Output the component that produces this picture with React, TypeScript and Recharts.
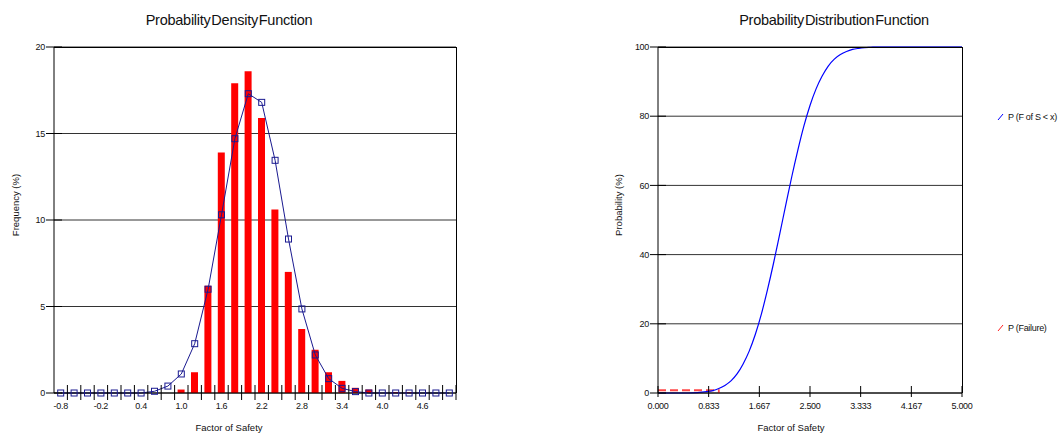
import { ComposedChart, LineChart, Bar, Line, XAxis, YAxis, CartesianGrid } from "recharts";

const FONT = "'Liberation Sans', Arial, sans-serif";

// ---- left: histogram of factor of safety (bins of 0.2)
const fsBins = [
  "-0.8", "-0.6", "-0.4", "-0.2", "0.0", "0.2", "0.4", "0.6", "0.8", "1.0",
  "1.2", "1.4", "1.6", "1.8", "2.0", "2.2", "2.4", "2.6", "2.8", "3.0",
  "3.2", "3.4", "3.6", "3.8", "4.0", "4.2", "4.4", "4.6", "4.8", "5.0",
];
const freqBars = [
  0, 0, 0, 0, 0, 0, 0, 0, 0, 0.2,
  1.2, 6.2, 13.9, 17.9, 18.6, 15.9, 10.6, 7.0, 3.7, 2.5,
  1.2, 0.7, 0.3, 0.2, 0, 0.05, 0.05, 0, 0, 0,
];
const freqCurve = [
  0, 0, 0, 0, 0, 0, 0, 0.1, 0.4, 1.1,
  2.85, 6.0, 10.3, 14.7, 17.3, 16.8, 13.45, 8.9, 4.86, 2.2,
  0.83, 0.27, 0.08, 0, 0, 0, 0, 0, 0, 0,
];
const freqTicks = [0, 5, 10, 15, 20];

// ---- right: cumulative probability
const cdfX = [
  0, 0.5, 0.8, 0.9, 1.0, 1.1, 1.2, 1.3, 1.4, 1.5, 1.6, 1.7, 1.8, 1.9, 2.0,
  2.1, 2.2, 2.3, 2.4, 2.5, 2.6, 2.7, 2.8, 2.9, 3.0, 3.1, 3.2, 3.3, 3.4, 3.5, 3.6, 4.0, 5.0,
];
const cdfY = [
  0, 0, 0.4, 0.7, 1.3, 2.2, 3.5, 5.5, 8.4, 12.1, 16.9, 22.8, 29.8, 37.5, 45.8,
  54.2, 62.5, 70.2, 77.2, 83.1, 87.9, 91.6, 94.5, 96.5, 97.8, 98.7, 99.3, 99.6, 99.8, 99.9, 100, 100, 100,
];
const failX = [0, 1.0, 1.0];
const failY = [0.8, 0.8, 0];
const probTicks = [0, 20, 40, 60, 80, 100];
const fsTicks = [0, 0.833, 1.667, 2.5, 3.333, 4.167, 5.0];

const pdfData = fsBins.map((fs, i) => ({ fs, bar: freqBars[i], curve: freqCurve[i] }));
const cdfData = cdfX.map((x, i) => ({ x, y: cdfY[i] }));
const failData = failX.map((x, i) => ({ x, y: failY[i] }));

const tickText = { fontSize: 9, fill: "#111", fontFamily: FONT, letterSpacing: -0.3 };

function YTick(props: any) {
  const { x, y, payload } = props;
  return (
    <g>
      <line x1={x - 8} x2={x + 8} y1={y} y2={y} stroke="#000" />
      <text x={x - 9} y={y} dy="0.35em" textAnchor="end" {...tickText}>
        {payload.value}
      </text>
    </g>
  );
}

function BinTick(props: any) {
  // tick marks sit on bin edges, labels on every 3rd bin
  const { x, y, payload, index } = props;
  const half = payload.offset || 6.7;
  return (
    <g>
      <line x1={x + half} x2={x + half} y1={y - 8} y2={y + 7} stroke="#000" />
      {index % 3 === 0 && (
        <text x={x} y={y + 16} textAnchor="middle" {...tickText}>
          {payload.value}
        </text>
      )}
    </g>
  );
}

function FsTick(props: any) {
  const { x, y, payload } = props;
  return (
    <g>
      <line x1={x} x2={x} y1={y - 7} y2={y + 4} stroke="#000" />
      <text x={x} y={y + 16} textAnchor="middle" {...tickText}>
        {Number(payload.value).toFixed(3)}
      </text>
    </g>
  );
}

function SquareDot(props: any) {
  const { cx, cy, index } = props;
  if (cx == null || cy == null) return <g key={index} />;
  return (
    <rect key={index} x={cx - 3} y={cy - 3} width={6} height={6} fill="none" stroke="#1a1a90" strokeWidth={1} />
  );
}

// plot frame (the charts' plot boxes: left 54..456, right 658..962, both 47..393)
function Frame({ left, width }: { left: number; width: number }) {
  return (
    <div
      style={{
        position: "absolute",
        left,
        top: 47,
        width,
        height: 346,
        borderTop: "1px solid #000",
        borderRight: "1px solid #000",
        boxSizing: "border-box",
        pointerEvents: "none",
      }}
    />
  );
}

export default function App() {
  const txt = { fontFamily: FONT, fill: "#111" };
  return (
    <div style={{ position: "absolute", left: 0, top: 0, width: 1060, height: 434, background: "#fff", overflow: "hidden" }}>
      <div style={{ position: "absolute", left: 0, top: 0 }}>
        <ComposedChart width={470} height={434} data={pdfData} margin={{ top: 47, right: 14, left: 0, bottom: 0 }}>
          <CartesianGrid vertical={false} stroke="#333" />
          <XAxis
            dataKey="fs"
            interval={0}
            height={41}
            tickSize={0}
            tickMargin={0}
            tickLine={false}
            axisLine={{ stroke: "#000" }}
            tick={BinTick}
          />
          <YAxis
            domain={[0, 20]}
            ticks={freqTicks}
            width={54}
            tickSize={0}
            tickMargin={0}
            tickLine={false}
            axisLine={{ stroke: "#000" }}
            tick={YTick}
          />
          <Bar dataKey="bar" fill="#ff0000" barSize={7} isAnimationActive={false} />
          <Line
            dataKey="curve"
            type="linear"
            stroke="#1a1a90"
            strokeWidth={1}
            dot={SquareDot}
            activeDot={false}
            isAnimationActive={false}
          />
        </ComposedChart>
      </div>
      <Frame left={54} width={403} />

      <div style={{ position: "absolute", left: 600, top: 0 }}>
        <LineChart width={380} height={434} margin={{ top: 47, right: 18, left: 0, bottom: 0 }}>
          <CartesianGrid vertical={false} stroke="#333" />
          <XAxis
            dataKey="x"
            type="number"
            domain={[0, 5]}
            ticks={fsTicks}
            height={41}
            tickSize={0}
            tickMargin={0}
            tickLine={false}
            axisLine={{ stroke: "#000" }}
            tick={FsTick}
            allowDuplicatedCategory={false}
          />
          <YAxis
            domain={[0, 100]}
            ticks={probTicks}
            width={58}
            tickSize={0}
            tickMargin={0}
            tickLine={false}
            axisLine={{ stroke: "#000" }}
            tick={YTick}
          />
          <Line data={failData} dataKey="y" type="linear" stroke="#ff4848" strokeWidth={1.8} strokeDasharray="8 4" dot={false} activeDot={false} isAnimationActive={false} />
          <Line data={cdfData} dataKey="y" type="monotone" stroke="#0000ff" strokeWidth={1.2} dot={false} activeDot={false} isAnimationActive={false} />
        </LineChart>
      </div>
      <Frame left={658} width={305} />

      <svg width={1060} height={434} style={{ position: "absolute", left: 0, top: 0, pointerEvents: "none" }}>
        <text x={229} y={25} textAnchor="middle" fontSize={14.5} wordSpacing={-3} letterSpacing={-0.25} {...txt}>
          Probability Density Function
        </text>
        <text x={834} y={25} textAnchor="middle" fontSize={14.5} wordSpacing={-3} letterSpacing={-0.25} {...txt}>
          Probability Distribution Function
        </text>
        <text x={229} y={431} textAnchor="middle" fontSize={9.5} {...txt}>
          Factor of Safety
        </text>
        <text x={791} y={431} textAnchor="middle" fontSize={9.5} {...txt}>
          Factor of Safety
        </text>
        <text x={0} y={0} transform="translate(19,205) rotate(-90)" textAnchor="middle" fontSize={9.5} {...txt}>
          Frequency (%)
        </text>
        <text x={0} y={0} transform="translate(622,205) rotate(-90)" textAnchor="middle" fontSize={9.5} {...txt}>
          Probability (%)
        </text>

        <line x1={998} y1={120} x2={1003} y2={114} stroke="#0000ff" />
        <text x={1008} y={120} fontSize={9} letterSpacing={-0.3} {...txt}>
          P (F of S &lt; x)
        </text>
        <line x1={998} y1={331} x2={1003} y2={325} stroke="#ff2020" />
        <text x={1008} y={331} fontSize={9} letterSpacing={-0.3} {...txt}>
          P (Failure)
        </text>
      </svg>
    </div>
  );
}
